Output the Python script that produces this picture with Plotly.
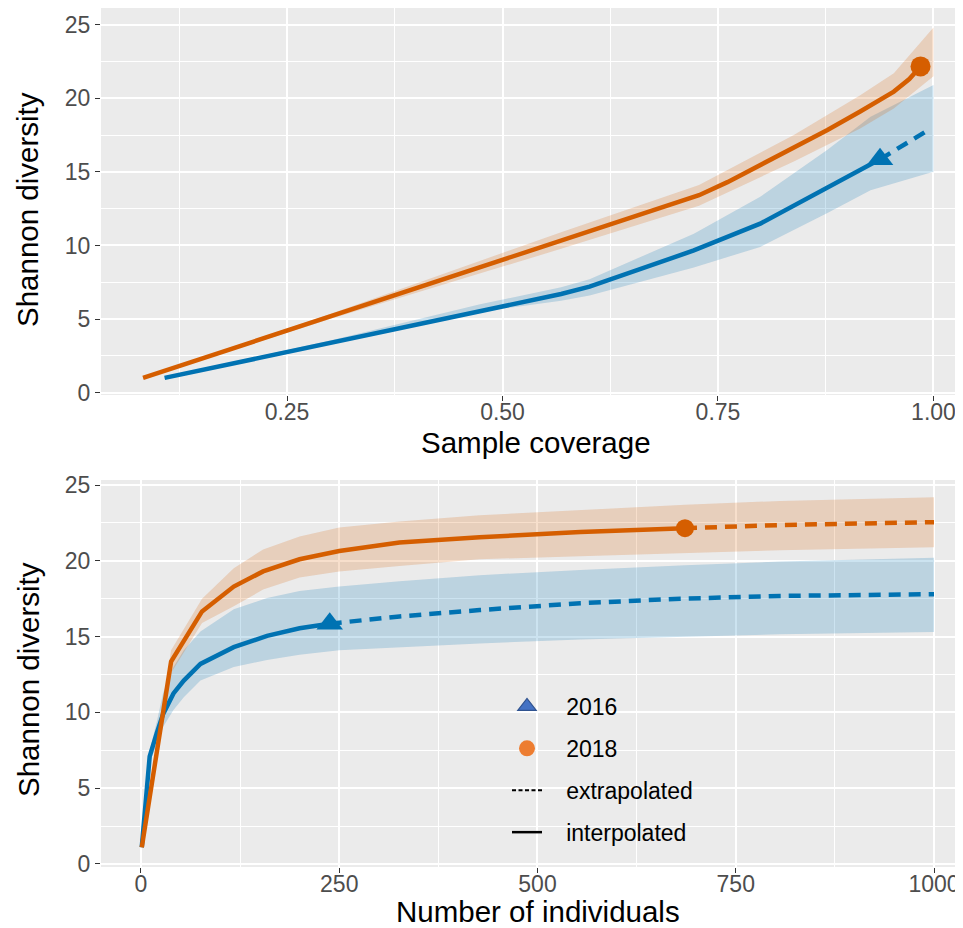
import plotly.graph_objects as go

# ---------------- data: coverage-based (top panel) ----------------
cov16_interp = [0.108, 0.200, 0.300, 0.400, 0.500, 0.568, 0.601, 0.722, 0.799, 0.877, 0.938]
shan16_interp_cov = [1.0, 2.15, 3.35, 4.6, 5.85, 6.7, 7.2, 9.66, 11.48, 13.98, 15.85]
cov16_extrap = [0.938, 0.965, 0.990]
shan16_extrap_cov = [15.85, 16.8, 17.7]
cov16_band = [0.108, 0.300, 0.474, 0.568, 0.601, 0.722, 0.799, 0.877, 0.927, 1.000]
lo16_cov = [0.95, 3.3, 5.5, 6.25, 6.6, 8.5, 9.9, 12.2, 13.75, 15.0]
hi16_cov = [1.05, 3.55, 6.0, 7.16, 7.7, 10.8, 13.3, 16.5, 18.75, 20.9]

cov18_interp = [0.083, 0.200, 0.300, 0.400, 0.500, 0.568, 0.728, 0.761, 0.799, 0.838, 0.877, 0.915, 0.954, 0.972, 0.985]
shan18_interp_cov = [1.0, 3.25, 5.18, 7.1, 9.02, 10.34, 13.41, 14.3, 15.45, 16.6, 17.84, 19.1, 20.45, 21.3, 22.16]
cov18_extrap = [0.985, 0.992]
shan18_extrap_cov = [22.16, 22.5]
cov18_band = [0.083, 0.300, 0.568, 0.728, 0.838, 0.915, 0.954, 1.000]
lo18_cov = [0.95, 5.0, 9.77, 12.7, 15.7, 17.95, 19.3, 21.5]
hi18_cov = [1.05, 5.35, 10.9, 14.1, 17.5, 20.2, 21.7, 24.8]

# ---------------- data: size-based (bottom panel) ----------------
n16_interp = [1, 11, 20, 28, 41, 54, 75, 117, 159, 200, 238]
shan16_interp_n = [1.1, 7.1, 8.65, 9.9, 11.25, 12.1, 13.2, 14.3, 15.05, 15.55, 15.85]
n16_extrap = [238, 268, 326, 427, 554, 680, 806, 1000]
shan16_extrap_n = [15.85, 16.0, 16.33, 16.75, 17.2, 17.5, 17.68, 17.8]
n16_band = [1, 11, 20, 28, 41, 54, 75, 117, 159, 200, 250, 326, 427, 554, 686, 806, 1000]
lo16_n = [1.0, 6.7, 7.9, 9.05, 10.15, 11.0, 12.1, 13.0, 13.45, 13.8, 14.1, 14.3, 14.55, 14.8, 15.0, 15.15, 15.3]
hi16_n = [1.2, 7.5, 9.4, 11.3, 13.0, 14.1, 15.33, 16.8, 17.55, 18.0, 18.3, 18.65, 19.05, 19.4, 19.7, 19.95, 20.2]

n18_interp = [1, 19, 38, 77, 117, 154, 200, 250, 326, 427, 554, 686]
shan18_interp_n = [1.1, 7.2, 13.35, 16.66, 18.3, 19.3, 20.1, 20.64, 21.2, 21.55, 21.9, 22.15]
n18_extrap = [686, 806, 1000]
shan18_extrap_n = [22.15, 22.36, 22.55]
n18_band = [1, 19, 38, 77, 117, 154, 200, 250, 326, 427, 554, 686, 806, 1000]
lo18_n = [1.0, 6.8, 12.6, 15.9, 17.0, 18.1, 18.9, 19.3, 19.65, 20.1, 20.3, 20.5, 20.7, 20.9]
hi18_n = [1.2, 7.6, 14.1, 17.5, 19.5, 20.75, 21.6, 22.2, 22.6, 23.0, 23.35, 23.7, 23.95, 24.2]

years = ["2016", "2018"]
legend_lines = ["extrapolated", "interpolated"]

# ---------------- styles ----------------
C16 = "#0072B2"
C18 = "#D55E00"
F16 = "rgba(0,114,178,0.2)"
F18 = "rgba(213,94,0,0.2)"
LW = 4.5
DASH = "12px,8px"
FONT = "Liberation Sans, Arial, sans-serif"
PAD = "\u00a0\u00a0\u00a0"

fig = go.Figure()


def add_panel(xa, ya, band16, band18, i16, e16, i18, e18, sym_size):
    for (bx, lo, hi), fill in ((band16, F16), (band18, F18)):
        fig.add_trace(go.Scatter(x=bx, y=lo, mode="lines", line=dict(width=0, color=fill),
                                 showlegend=False, hoverinfo="skip", xaxis=xa, yaxis=ya))
        fig.add_trace(go.Scatter(x=bx, y=hi, mode="lines", line=dict(width=0, color=fill),
                                 fill="tonexty", fillcolor=fill, showlegend=False,
                                 hoverinfo="skip", xaxis=xa, yaxis=ya))
    for (ix, iy), (ex, ey), col, sym, msz in ((i16, e16, C16, "triangle-up", sym_size[0]),
                                               (i18, e18, C18, "circle", sym_size[1])):
        fig.add_trace(go.Scatter(x=ex, y=ey, mode="lines", line=dict(color=col, width=LW, dash=DASH),
                                 showlegend=False, xaxis=xa, yaxis=ya))
        fig.add_trace(go.Scatter(x=ix, y=iy, mode="lines", line=dict(color=col, width=LW),
                                 showlegend=False, xaxis=xa, yaxis=ya))
        fig.add_trace(go.Scatter(x=[ix[-1]], y=[iy[-1]], mode="markers",
                                 marker=dict(symbol=sym, size=msz, color=col),
                                 showlegend=False, xaxis=xa, yaxis=ya))


add_panel("x", "y",
          (cov16_band, lo16_cov, hi16_cov), (cov18_band, lo18_cov, hi18_cov),
          (cov16_interp, shan16_interp_cov), (cov16_extrap, shan16_extrap_cov),
          (cov18_interp, shan18_interp_cov), (cov18_extrap, shan18_extrap_cov),
          (23, 20))
add_panel("x2", "y2",
          (n16_band, lo16_n, hi16_n), (n18_band, lo18_n, hi18_n),
          (n16_interp, shan16_interp_n), (n16_extrap, shan16_extrap_n),
          (n18_interp, shan18_interp_n), (n18_extrap, shan18_extrap_n),
          (23, 18))

# legend entries
fig.add_trace(go.Scatter(x=[None], y=[None], mode="markers", name=PAD + years[0], legendgroup="a",
                         marker=dict(symbol="triangle-up", size=16, color="#4472C4",
                                     line=dict(color="#2F528F", width=1.2)),
                         xaxis="x2", yaxis="y2"))
fig.add_trace(go.Scatter(x=[None], y=[None], mode="markers", name=PAD + years[1], legendgroup="b",
                         marker=dict(symbol="circle", size=16, color="#ED7D31"),
                         xaxis="x2", yaxis="y2"))
fig.add_trace(go.Scatter(x=[None], y=[None], mode="lines", name=PAD + legend_lines[0], legendgroup="c",
                         line=dict(color="black", width=2, dash="4px,2.5px"),
                         xaxis="x2", yaxis="y2"))
fig.add_trace(go.Scatter(x=[None], y=[None], mode="lines", name=PAD + legend_lines[1], legendgroup="d",
                         line=dict(color="black", width=2.5),
                         xaxis="x2", yaxis="y2"))

W, H = 963, 928
OX, OY = 8, 8  # page body margin offset


def px(x):
    return (x - OX) / W


def py(y):
    return 1 - (y - OY) / H


xdom = [px(101), px(962)]
grid = dict(showgrid=True, gridcolor="white", gridwidth=1.8, zeroline=False, showline=False,
            ticks="outside", ticklen=5, tickwidth=1.3, tickcolor="#333333", automargin=False,
            tickfont=dict(family=FONT, size=23, color="#4D4D4D"))
minor_y = dict(dtick=2.5, tick0=0, showgrid=True, gridcolor="white", gridwidth=0.9, ticks="")

fig.update_layout(
    width=W, height=H, margin=dict(l=0, r=0, t=0, b=0, autoexpand=False),
    paper_bgcolor="white", plot_bgcolor="#EBEBEB",
    font=dict(family=FONT),
    xaxis=dict(domain=xdom, anchor="y", range=[0.0342, 1.0331], dtick=0.25, tick0=0,
               tickformat=".2f", ticklabelstandoff=-9,
               minor=dict(dtick=0.125, tick0=0, showgrid=True, gridcolor="white", gridwidth=0.9, ticks=""),
               **grid),
    yaxis=dict(domain=[py(395), py(8)], anchor="x", range=[-0.16, 26.13], dtick=5, tick0=0,
               minor=minor_y, **grid),
    xaxis2=dict(domain=xdom, anchor="y2", range=[-50.4, 1035.3], dtick=250, tick0=0,
                ticklabelstandoff=-9,
                minor=dict(dtick=125, tick0=0, showgrid=True, gridcolor="white", gridwidth=0.9, ticks=""),
                **grid),
    yaxis2=dict(domain=[py(867), py(480)], anchor="x2", range=[-0.2, 25.33], dtick=5, tick0=0,
                minor=minor_y, **grid),
    legend=dict(x=px(507), y=py(685), xanchor="left", yanchor="top",
                bgcolor="rgba(0,0,0,0)", font=dict(family=FONT, size=23, color="black"),
                traceorder="grouped", tracegroupgap=9, itemwidth=30),
    showlegend=True,
)

title_font = dict(family=FONT, size=29.5, color="black")
fig.add_annotation(text="Sample coverage", xref="paper", yref="paper", x=px(536), y=py(442),
                   xanchor="center", yanchor="middle", showarrow=False, font=title_font, borderpad=0)
fig.add_annotation(text="Number of individuals", xref="paper", yref="paper", x=px(538), y=py(911),
                   xanchor="center", yanchor="middle", showarrow=False, font=title_font, borderpad=0)
fig.add_annotation(text="Shannon diversity", xref="paper", yref="paper", x=px(28), y=py(210),
                   xanchor="center", yanchor="middle", showarrow=False, textangle=-90, font=title_font,
                   borderpad=0)
fig.add_annotation(text="Shannon diversity", xref="paper", yref="paper", x=px(28), y=py(680),
                   xanchor="center", yanchor="middle", showarrow=False, textangle=-90, font=title_font,
                   borderpad=0)

fig.write_html("out.html")
